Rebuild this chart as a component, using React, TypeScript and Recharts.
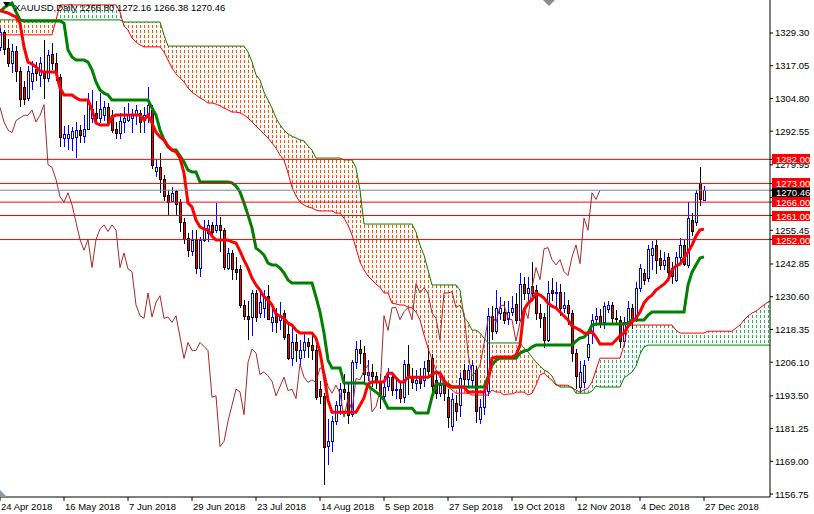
import React from "react";
import { ComposedChart, Area, Bar, Line, XAxis, YAxis, ReferenceLine } from "recharts";

// daily bars, index 0 = 24 Apr 2018 ... 176 = 27 Dec 2018
const opens = [
  1324.0, 1329.5, 1323.5, 1318.0, 1322.5, 1315.0, 1309.0, 1305.0, 1311.5, 1316.0,
  1313.5, 1314.5, 1312.5, 1321.5, 1318.0, 1313.0, 1290.0, 1290.0, 1290.0, 1290.5,
  1293.0, 1291.0, 1293.5, 1297.5, 1299.5, 1297.5, 1298.5, 1301.5, 1298.5, 1293.5,
  1292.0, 1296.0, 1296.5, 1297.5, 1298.5, 1299.5, 1296.5, 1298.5, 1300.5, 1277.5,
  1279.0, 1274.5, 1268.5, 1266.5, 1270.0, 1266.0, 1258.5, 1252.5, 1248.0, 1252.0,
  1241.5, 1252.0, 1254.5, 1257.5, 1255.5, 1257.5, 1255.5, 1241.5, 1247.0, 1241.0,
  1241.0, 1227.5, 1223.5, 1223.0, 1232.0, 1224.5, 1226.5, 1231.0, 1221.0, 1224.5,
  1222.0, 1224.5, 1216.5, 1207.5, 1213.5, 1207.5, 1210.5, 1213.5, 1212.5, 1210.5,
  1196.0, 1193.5, 1174.5, 1176.5, 1184.0, 1190.0, 1196.0, 1195.0, 1186.5, 1206.0,
  1211.0, 1209.5, 1201.5, 1202.5, 1201.0, 1199.0, 1193.5, 1197.0, 1200.5, 1195.5,
  1196.0, 1193.0, 1205.5, 1200.5, 1198.5, 1201.0, 1199.5, 1207.0, 1207.5, 1199.5,
  1194.5, 1197.5, 1193.0, 1182.5, 1191.0, 1190.0, 1203.0, 1199.5, 1199.5, 1203.0,
  1185.0, 1189.5, 1195.5, 1223.5, 1218.0, 1224.5, 1225.0, 1222.5, 1225.0, 1228.0,
  1222.0, 1235.5, 1232.0, 1234.5, 1233.0, 1224.5, 1223.0, 1214.5, 1233.0, 1232.0,
  1232.5, 1226.5, 1227.5, 1224.5, 1209.5, 1197.0, 1198.5, 1208.0, 1217.0, 1222.5,
  1223.5, 1221.0, 1226.0, 1227.5, 1222.5, 1222.0, 1214.0, 1221.0, 1226.5, 1222.5,
  1234.0, 1239.5, 1237.5, 1246.5, 1250.0, 1245.0, 1242.5, 1245.5, 1241.5, 1237.0,
  1245.5, 1250.0, 1242.5, 1259.5, 1258.5, 1273.0, 1266.8,
];
const highs = [
  1331.0, 1330.5, 1327.0, 1325.0, 1324.5, 1316.5, 1311.5, 1317.0, 1319.0, 1318.5,
  1320.5, 1326.5, 1323.0, 1325.5, 1322.0, 1314.0, 1294.5, 1295.0, 1294.0, 1296.0,
  1295.0, 1298.5, 1307.0, 1308.0, 1304.0, 1307.0, 1304.0, 1303.0, 1300.5, 1296.0,
  1299.5, 1301.5, 1303.0, 1301.0, 1302.5, 1300.5, 1301.5, 1309.0, 1302.5, 1282.0,
  1284.5, 1276.0, 1270.5, 1271.5, 1270.5, 1267.0, 1260.0, 1254.5, 1255.5, 1255.5,
  1253.0, 1259.5, 1259.5, 1258.5, 1265.5, 1260.5, 1256.5, 1249.0, 1248.0, 1245.5,
  1242.5, 1229.5, 1229.0, 1233.0, 1233.0, 1232.0, 1233.0, 1235.0, 1228.0, 1226.5,
  1228.5, 1225.5, 1220.0, 1220.5, 1216.5, 1214.5, 1216.5, 1215.0, 1216.5, 1212.5,
  1199.0, 1194.5, 1185.0, 1186.0, 1191.5, 1198.5, 1201.5, 1198.0, 1207.0, 1214.0,
  1214.5, 1212.0, 1207.0, 1205.5, 1202.5, 1201.5, 1201.0, 1204.0, 1202.5, 1200.5,
  1198.5, 1207.0, 1212.5, 1204.0, 1203.0, 1204.0, 1206.5, 1211.5, 1209.0, 1202.0,
  1201.0, 1200.0, 1196.0, 1194.5, 1194.0, 1202.0, 1205.5, 1205.0, 1207.0, 1204.5,
  1192.5, 1198.0, 1226.5, 1227.0, 1233.0, 1230.5, 1229.0, 1229.0, 1231.0, 1232.0,
  1239.5, 1238.0, 1238.0, 1243.5, 1235.0, 1228.0, 1224.5, 1236.5, 1237.5, 1236.0,
  1235.5, 1232.5, 1229.5, 1225.5, 1211.0, 1206.5, 1207.0, 1217.5, 1224.0, 1226.5,
  1226.0, 1228.5, 1229.0, 1228.5, 1225.5, 1223.5, 1223.0, 1229.0, 1228.0, 1236.0,
  1243.0, 1241.0, 1250.0, 1251.5, 1252.0, 1248.0, 1247.5, 1247.0, 1243.5, 1247.5,
  1252.5, 1252.0, 1266.0, 1262.0, 1270.5, 1279.0, 1272.16,
];
const lows = [
  1322.5, 1321.0, 1316.5, 1314.5, 1311.0, 1301.5, 1302.5, 1304.0, 1308.0, 1311.5,
  1309.0, 1304.5, 1311.0, 1315.5, 1311.5, 1286.5, 1286.5, 1285.5, 1285.0, 1282.5,
  1288.0, 1288.0, 1293.0, 1295.5, 1295.5, 1295.5, 1296.5, 1295.5, 1292.0, 1289.5,
  1289.5, 1292.0, 1296.0, 1292.0, 1295.0, 1292.0, 1292.0, 1295.5, 1278.5, 1275.5,
  1269.5, 1266.5, 1261.0, 1266.0, 1261.0, 1255.0, 1250.5, 1245.5, 1246.0, 1239.0,
  1238.0, 1251.0, 1251.0, 1253.0, 1254.5, 1247.5, 1240.5, 1240.5, 1237.0, 1237.0,
  1226.5, 1222.0, 1214.5, 1216.0, 1221.0, 1222.5, 1222.5, 1222.0, 1217.5, 1217.0,
  1218.0, 1214.5, 1207.0, 1204.5, 1206.0, 1204.5, 1207.5, 1207.5, 1207.0, 1192.0,
  1190.5, 1160.0, 1167.5, 1172.5, 1182.5, 1186.5, 1192.0, 1183.0, 1185.5, 1203.5,
  1205.5, 1198.5, 1199.0, 1197.0, 1196.0, 1188.5, 1191.0, 1195.5, 1193.5, 1192.5,
  1191.0, 1191.0, 1194.0, 1196.0, 1195.5, 1196.0, 1197.0, 1201.0, 1194.5, 1192.5,
  1193.0, 1191.5, 1181.5, 1180.5, 1184.0, 1185.5, 1196.5, 1197.0, 1196.5, 1183.5,
  1183.0, 1186.5, 1193.5, 1214.5, 1216.5, 1222.0, 1220.5, 1220.0, 1223.5, 1220.5,
  1221.0, 1229.5, 1229.0, 1229.0, 1222.0, 1219.0, 1211.5, 1213.5, 1229.0, 1226.5,
  1223.5, 1224.5, 1220.0, 1206.0, 1196.0, 1194.5, 1196.5, 1206.5, 1213.0, 1219.5,
  1219.0, 1218.5, 1224.5, 1220.5, 1220.0, 1211.5, 1212.0, 1219.5, 1218.5, 1221.0,
  1232.5, 1235.0, 1236.0, 1240.5, 1239.0, 1240.5, 1240.5, 1238.5, 1235.5, 1236.0,
  1243.5, 1242.0, 1241.5, 1253.5, 1257.0, 1264.5, 1266.38,
];
const closes = [
  1329.5, 1323.0, 1318.0, 1322.5, 1315.0, 1304.5, 1304.5, 1315.0, 1314.5, 1314.5,
  1318.0, 1312.5, 1321.0, 1318.0, 1314.5, 1290.5, 1291.5, 1291.5, 1292.5, 1293.0,
  1291.0, 1293.5, 1304.0, 1301.0, 1297.5, 1301.0, 1301.5, 1296.0, 1293.0, 1292.0,
  1296.5, 1297.5, 1298.5, 1298.5, 1300.5, 1296.0, 1298.5, 1302.5, 1280.0, 1279.0,
  1274.5, 1268.0, 1266.0, 1269.5, 1265.0, 1258.5, 1252.0, 1248.0, 1252.0, 1241.5,
  1252.0, 1256.0, 1257.5, 1255.0, 1257.5, 1255.5, 1241.5, 1247.0, 1241.0, 1240.0,
  1227.5, 1223.5, 1222.5, 1232.0, 1223.0, 1228.5, 1231.0, 1222.5, 1223.0, 1221.0,
  1223.5, 1215.5, 1207.5, 1213.5, 1210.5, 1210.5, 1213.5, 1212.0, 1210.5, 1193.0,
  1193.5, 1174.5, 1176.5, 1184.0, 1190.0, 1196.0, 1195.0, 1186.5, 1206.0, 1211.0,
  1209.5, 1201.5, 1202.5, 1201.0, 1199.0, 1193.5, 1197.0, 1200.5, 1195.5, 1196.0,
  1192.5, 1205.5, 1200.5, 1198.5, 1199.5, 1198.5, 1204.0, 1203.0, 1197.0, 1194.5,
  1197.5, 1194.5, 1185.5, 1192.5, 1188.0, 1200.0, 1199.5, 1203.0, 1205.0, 1187.5,
  1189.5, 1195.5, 1223.5, 1218.0, 1226.5, 1226.5, 1222.0, 1225.0, 1226.5, 1222.0,
  1235.5, 1232.0, 1234.0, 1232.0, 1224.5, 1222.5, 1214.5, 1232.0, 1232.0, 1232.5,
  1226.5, 1227.5, 1224.5, 1209.5, 1201.0, 1202.5, 1205.0, 1213.0, 1222.0, 1223.5,
  1221.0, 1227.0, 1227.5, 1222.5, 1222.0, 1214.0, 1221.0, 1226.5, 1222.5, 1234.0,
  1241.5, 1237.0, 1248.5, 1249.0, 1244.5, 1242.5, 1244.5, 1240.0, 1238.5, 1245.5,
  1250.0, 1243.0, 1260.0, 1255.5, 1269.5, 1267.0, 1270.46,
];

// Ichimoku lines
const tenkan = [
  1337.9, 1337.2, 1336.8, 1336.0, 1335.3, 1333.0, 1324.1, 1318.4, 1317.7, 1316.6,
  1315.1, 1314.7, 1314.7, 1314.7, 1314.7, 1308.7, 1306.1, 1306.1, 1306.1, 1305.0,
  1304.2, 1304.2, 1304.2, 1300.5, 1295.6, 1294.9, 1294.9, 1294.9, 1297.9, 1298.6,
  1298.6, 1298.6, 1298.6, 1298.6, 1298.6, 1298.6, 1296.7, 1298.6, 1295.6, 1292.2,
  1290.4, 1289.3, 1287.0, 1285.5, 1284.8, 1282.5, 1276.9, 1265.7, 1264.2, 1259.3,
  1256.7, 1255.9, 1255.6, 1253.3, 1251.8, 1251.8, 1251.8, 1251.8, 1251.1, 1250.7,
  1247.7, 1244.3, 1241.3, 1237.6, 1235.0, 1233.1, 1230.5, 1229.4, 1227.5, 1224.1,
  1223.4, 1222.6, 1220.7, 1220.0, 1218.1, 1217.0, 1217.0, 1217.0, 1217.0, 1215.1,
  1209.9, 1201.3, 1191.9, 1187.4, 1187.4, 1187.4, 1187.4, 1187.4, 1187.4, 1187.4,
  1190.0, 1192.7, 1197.9, 1198.7, 1198.7, 1198.7, 1198.7, 1202.0, 1202.0, 1200.2,
  1198.7, 1198.7, 1200.5, 1200.5, 1200.5, 1200.5, 1200.5, 1200.5, 1201.3, 1202.4,
  1202.0, 1199.4, 1197.2, 1196.8, 1196.8, 1196.8, 1196.8, 1194.9, 1194.9, 1194.9,
  1194.9, 1194.9, 1198.7, 1207.6, 1208.0, 1208.0, 1208.0, 1208.0, 1208.0, 1208.8,
  1212.5, 1225.6, 1228.2, 1229.4, 1232.0, 1231.2, 1230.1, 1228.2, 1227.1, 1226.4,
  1224.9, 1223.4, 1221.9, 1219.6, 1218.9, 1218.1, 1217.0, 1217.0, 1217.4, 1215.5,
  1212.9, 1212.9, 1212.9, 1212.9, 1214.4, 1215.9, 1217.0, 1219.6, 1221.1, 1222.6,
  1224.9, 1228.2, 1230.1, 1231.2, 1233.1, 1234.2, 1235.3, 1236.9, 1240.6, 1242.1,
  1242.8, 1245.1, 1247.3, 1249.9, 1253.3, 1255.6, 1255.9,
];
const kijun = [
  1337.2, 1338.7, 1339.8, 1340.5, 1337.2, 1334.2, 1333.8, 1333.8, 1333.8, 1333.8,
  1333.8, 1333.8, 1333.8, 1333.8, 1333.8, 1333.8, 1333.0, 1322.9, 1320.3, 1319.2,
  1319.2, 1319.2, 1318.4, 1315.5, 1311.0, 1308.0, 1306.8, 1306.1, 1304.2, 1304.2,
  1304.2, 1304.2, 1304.2, 1304.2, 1304.2, 1304.2, 1304.2, 1304.2, 1301.2, 1298.6,
  1293.0, 1289.3, 1286.6, 1285.5, 1285.5, 1283.3, 1281.0, 1278.0, 1277.3, 1277.3,
  1273.5, 1273.5, 1273.5, 1273.5, 1273.5, 1273.5, 1273.5, 1273.5, 1273.2, 1272.0,
  1269.8, 1265.7, 1261.2, 1256.3, 1248.8, 1247.7, 1246.2, 1243.2, 1242.5, 1242.5,
  1241.3, 1239.5, 1236.9, 1235.7, 1235.7, 1235.7, 1235.7, 1235.7, 1235.7, 1230.5,
  1224.9, 1217.0, 1206.9, 1203.9, 1203.9, 1203.9, 1198.3, 1198.3, 1198.3, 1198.3,
  1198.3, 1198.3, 1197.5, 1196.0, 1194.9, 1193.8, 1191.9, 1188.9, 1188.9, 1188.9,
  1188.9, 1188.9, 1188.9, 1188.9, 1187.1, 1187.1, 1187.1, 1187.1, 1193.1, 1197.9,
  1197.9, 1197.9, 1197.9, 1196.8, 1196.8, 1196.8, 1196.8, 1196.8, 1196.8, 1196.8,
  1196.8, 1196.8, 1200.5, 1205.0, 1206.9, 1207.6, 1207.6, 1207.6, 1207.6, 1207.6,
  1209.5, 1210.3, 1210.6, 1211.8, 1212.5, 1212.5, 1212.5, 1212.5, 1212.5, 1212.5,
  1212.5, 1212.5, 1212.5, 1212.5, 1214.0, 1215.1, 1215.5, 1217.0, 1220.0, 1220.4,
  1220.4, 1220.4, 1220.4, 1220.4, 1220.4, 1220.4, 1220.4, 1220.7, 1221.9, 1221.9,
  1221.9, 1221.9, 1223.7, 1224.9, 1224.9, 1224.9, 1224.9, 1224.9, 1224.9, 1224.9,
  1224.9, 1224.9, 1235.0, 1239.8, 1242.5, 1245.1, 1245.5,
];
// Senkou spans, already shifted 26 bars ahead (index 0..193)
const spanA = [
  1328.6, 1328.6, 1328.6, 1328.6, 1328.6, 1328.6, 1328.6, 1328.6, 1328.6, 1328.6,
  1328.6, 1328.6, 1328.6, 1328.6, 1334.2, 1339.8, 1339.8, 1339.8, 1339.8, 1339.8,
  1339.8, 1339.8, 1339.8, 1339.8, 1339.8, 1339.8, 1339.8, 1339.8, 1339.8, 1339.8,
  1337.2, 1331.9, 1330.4, 1327.4, 1325.9, 1324.8, 1324.1, 1324.1, 1324.1, 1324.1,
  1324.1, 1322.2, 1319.2, 1316.2, 1314.0, 1312.5, 1311.0, 1308.7, 1307.2, 1306.1,
  1305.0, 1304.2, 1303.1, 1303.1, 1302.7, 1302.0, 1301.2, 1300.5, 1299.7, 1299.7,
  1299.4, 1298.6, 1297.5, 1296.0, 1294.5, 1293.0, 1291.5, 1290.0, 1288.1, 1286.2,
  1283.6, 1281.8, 1276.9, 1271.6, 1268.3, 1266.0, 1264.9, 1264.2, 1263.8, 1263.0,
  1262.7, 1262.7, 1262.7, 1262.7, 1261.9, 1261.9, 1260.0, 1257.4, 1253.7, 1248.8,
  1243.6, 1240.6, 1238.3, 1236.9, 1235.3, 1234.2, 1232.0, 1232.0, 1228.2, 1227.9,
  1227.5, 1227.5, 1226.7, 1226.4, 1224.9, 1221.9, 1216.3, 1211.4, 1206.9, 1203.2,
  1200.2, 1198.3, 1196.8, 1195.7, 1194.5, 1194.5, 1194.5, 1194.5, 1193.8, 1193.8,
  1193.8, 1193.8, 1193.8, 1195.7, 1194.9, 1194.9, 1193.8, 1194.2, 1194.2, 1194.9,
  1194.9, 1194.9, 1193.8, 1194.5, 1197.5, 1201.3, 1202.0, 1200.5, 1199.4, 1197.5,
  1197.5, 1197.5, 1197.5, 1196.4, 1195.7, 1194.9, 1195.7, 1196.4, 1198.7, 1203.2,
  1207.6, 1207.6, 1207.6, 1207.6, 1207.6, 1207.6, 1212.5, 1219.6, 1220.0, 1220.0,
  1220.0, 1220.0, 1220.0, 1220.0, 1220.0, 1220.0, 1220.0, 1220.0, 1220.0, 1218.1,
  1217.0, 1217.0, 1217.0, 1217.0, 1217.0, 1217.0, 1217.0, 1217.7, 1217.7, 1217.7,
  1217.7, 1217.7, 1217.7, 1217.7, 1218.9, 1220.0, 1221.9, 1223.4, 1224.5, 1225.2,
  1226.4, 1227.5, 1228.6, 1229.4,
];
const spanB = [
  1334.2, 1334.2, 1334.2, 1334.2, 1334.2, 1334.2, 1334.2, 1334.2, 1334.2, 1334.2,
  1334.2, 1334.2, 1334.2, 1334.2, 1334.2, 1334.2, 1334.2, 1334.2, 1334.2, 1334.2,
  1334.2, 1334.2, 1334.2, 1334.2, 1334.2, 1334.2, 1334.2, 1334.2, 1334.2, 1334.2,
  1334.2, 1333.4, 1333.4, 1333.4, 1333.4, 1333.4, 1333.4, 1333.4, 1333.4, 1333.4,
  1333.4, 1328.5, 1324.4, 1324.4, 1324.4, 1324.4, 1324.4, 1324.4, 1324.4, 1324.4,
  1324.4, 1324.4, 1324.4, 1324.4, 1324.4, 1324.4, 1324.4, 1324.4, 1324.4, 1324.4,
  1324.4, 1324.4, 1322.2, 1318.5, 1313.6, 1311.7, 1307.2, 1304.2, 1301.2, 1297.5,
  1294.9, 1293.0, 1291.5, 1290.7, 1290.0, 1289.3, 1288.9, 1287.0, 1285.5, 1282.5,
  1282.5, 1282.5, 1282.5, 1282.5, 1282.5, 1282.5, 1281.8, 1281.8, 1281.8, 1278.8,
  1270.5, 1257.8, 1257.8, 1257.8, 1257.8, 1257.8, 1257.8, 1257.8, 1257.8, 1257.8,
  1257.8, 1257.8, 1257.8, 1257.8, 1254.8, 1249.9, 1246.2, 1240.6, 1235.0, 1235.0,
  1235.0, 1235.0, 1235.0, 1235.0, 1235.0, 1233.1, 1223.0, 1221.1, 1218.1, 1218.1,
  1217.0, 1215.1, 1213.3, 1213.3, 1213.3, 1213.3, 1213.3, 1213.3, 1213.3, 1213.3,
  1213.3, 1211.4, 1209.9, 1208.0, 1206.2, 1204.6, 1203.2, 1202.4, 1200.9, 1197.9,
  1196.8, 1196.8, 1196.8, 1196.8, 1194.5, 1194.5, 1194.5, 1194.5, 1195.3, 1197.2,
  1196.8, 1196.8, 1196.8, 1196.8, 1196.8, 1196.8, 1200.2, 1201.3, 1202.4, 1204.6,
  1209.1, 1211.8, 1212.5, 1212.5, 1212.5, 1212.5, 1212.5, 1212.5, 1212.5, 1212.5,
  1212.5, 1212.5, 1212.5, 1212.5, 1212.5, 1212.5, 1212.5, 1212.5, 1212.5, 1212.5,
  1212.5, 1212.5, 1212.5, 1212.5, 1212.5, 1212.5, 1212.5, 1212.5, 1212.5, 1212.5,
  1212.5, 1212.5, 1212.5, 1212.5,
];

const dateTicks = [0, 16, 32, 48, 64, 80, 96, 112, 128, 144, 160, 176];
const dateLabels = [
  "24 Apr 2018", "16 May 2018", "7 Jun 2018", "29 Jun 2018", "23 Jul 2018", "14 Aug 2018",
  "5 Sep 2018", "27 Sep 2018", "19 Oct 2018", "12 Nov 2018", "4 Dec 2018", "27 Dec 2018",
];
const priceTicks = [
  1329.3, 1317.05, 1304.8, 1292.55, 1279.95, 1267.7, 1255.45, 1242.85, 1230.6, 1218.35,
  1206.1, 1193.5, 1181.25, 1169.0, 1156.75,
];
const redLevels = [1282, 1273, 1266, 1261, 1252];
const lastPrice = 1270.46;
const chikouShift = 26;
const title = "XAUUSD,Daily 1266.80 1272.16 1266.38 1270.46";

const FONT = "'Liberation Sans', Arial, sans-serif";

// tags go last so they are painted over the ordinary tick labels; red ones on top
const axisTicks = [...priceTicks, lastPrice, ...redLevels];

const rows = spanA.map((a, i) => {
  const b = spanB[i];
  const bar = i < closes.length;
  const ci = i + chikouShift;
  return {
    i,
    range: bar ? [lows[i], highs[i]] : null,
    o: bar ? opens[i] : null,
    h: bar ? highs[i] : null,
    l: bar ? lows[i] : null,
    c: bar ? closes[i] : null,
    tenkan: bar ? tenkan[i] : null,
    kijun: bar ? kijun[i] : null,
    chikou: ci < closes.length ? closes[ci] : null,
    spanA: a,
    spanB: b,
    up: [b, Math.max(a, b)],
    down: [a, Math.max(a, b)],
  };
});

function Candle(props: any) {
  const { x, y, width, height, payload } = props;
  if (!payload || payload.range == null) return null;
  const { o, h, l, c } = payload;
  const k = h - l > 0 ? height / (h - l) : 0;
  const cx = Math.round(x + width / 2) + 0.5;
  const yO = y + (h - o) * k;
  const yC = y + (h - c) * k;
  const bull = c >= o;
  const top = Math.round(Math.min(yO, yC)) + 0.5;
  const bh = Math.max(Math.round(Math.abs(yC - yO)), 1);
  const col = bull ? "#0000FF" : "#000000";
  return (
    <g shapeRendering="crispEdges">
      <line x1={cx} x2={cx} y1={y} y2={y + height} stroke={col} strokeWidth={1} />
      <rect x={cx - 1} y={top} width={2} height={bh} fill={bull ? "#FFFFFF" : "#FF0000"} stroke={col} strokeWidth={1} />
    </g>
  );
}

function DateTick(props: any) {
  const { x, y, payload } = props;
  const k = dateTicks.indexOf(payload.value);
  return (
    <text x={x + 1} y={y + 7} fontSize={9.5} fontFamily={FONT} fill="#000">
      {dateLabels[k]}
    </text>
  );
}

function PriceTick(props: any) {
  const { x, y, payload } = props;
  const v = payload.value;
  const isRed = redLevels.includes(v);
  const isLast = v === lastPrice;
  if (isRed || isLast) {
    // the bid tag sits a little lower so the 1273 tag does not cover it
    const yy = Math.round(y) + (isLast ? 2 : 0);
    return (
      <g>
        <rect x={x - 3} y={yy - 5} width={38} height={10} fill={isRed ? "#FF0000" : "#000000"} />
        <text x={x + 1} y={yy + 3.5} fontSize={9.5} fontFamily={FONT} fill="#FFFFFF">
          {v.toFixed(2)}
        </text>
      </g>
    );
  }
  return (
    <text x={x} y={y + 3.5} fontSize={9.5} fontFamily={FONT} fill="#000">
      {v.toFixed(2)}
    </text>
  );
}

export default function App() {
  return (
    <div style={{ position: "absolute", left: 0, top: 0, width: 814, height: 514, background: "#fff" }}>
      <ComposedChart width={814} height={514} data={rows} margin={{ top: 0, right: 0, bottom: 0, left: 0 }}>
        <defs>
          <pattern id="dotsOrange" patternUnits="userSpaceOnUse" width="4" height="5">
            <rect x="0" y="0" width="1" height="3" fill="#FF5000" />
          </pattern>
          <pattern id="dotsGreen" patternUnits="userSpaceOnUse" width="4" height="5">
            <rect x="0" y="0" width="1" height="3" fill="#2FAF5F" />
          </pattern>
        </defs>
        <XAxis
          dataKey="i"
          type="number"
          domain={[0, 192.5]}
          allowDataOverflow
          ticks={dateTicks}
          interval={0}
          height={17}
          tickSize={4}
          tick={<DateTick />}
          axisLine={{ stroke: "#000" }}
          tickLine={{ stroke: "#000" }}
        />
        <YAxis
          orientation="right"
          width={44}
          type="number"
          domain={[1155.65, 1341.65]}
          allowDataOverflow
          ticks={axisTicks}
          interval={0}
          tickSize={3}
          tickMargin={2}
          tick={<PriceTick />}
          axisLine={{ stroke: "#000" }}
          tickLine={{ stroke: "#000" }}
        />
        <Area dataKey="down" type="linear" stroke="none" fill="url(#dotsOrange)" fillOpacity={1} dot={false} activeDot={false} isAnimationActive={false} />
        <Area dataKey="up" type="linear" stroke="none" fill="url(#dotsGreen)" fillOpacity={1} dot={false} activeDot={false} isAnimationActive={false} />
        <Line dataKey="spanA" type="linear" stroke="#FF0000" strokeWidth={1} dot={false} activeDot={false} isAnimationActive={false} />
        <Line dataKey="spanB" type="linear" stroke="#008000" strokeWidth={1} dot={false} activeDot={false} isAnimationActive={false} />
        <Bar dataKey="range" barSize={3} shape={(p: any) => <Candle {...p} />} isAnimationActive={false} />
        <Line dataKey="chikou" type="linear" stroke="#A52A2A" strokeWidth={1} dot={false} activeDot={false} isAnimationActive={false} />
        <Line dataKey="kijun" type="linear" stroke="#008000" strokeWidth={3} dot={false} activeDot={false} isAnimationActive={false} />
        <Line dataKey="tenkan" type="linear" stroke="#FF0000" strokeWidth={3} dot={false} activeDot={false} isAnimationActive={false} />
        {redLevels.map((v) => (
          <ReferenceLine key={v} y={v} stroke="#FF0000" strokeWidth={1} />
        ))}
        <ReferenceLine y={lastPrice} stroke="#778899" strokeWidth={1} />
      </ComposedChart>
      <svg width={814} height={514} style={{ position: "absolute", left: 0, top: 0, pointerEvents: "none" }}>
        <polygon points="3,2 10,2 6.5,7" fill="#000" />
        <text x={14} y={11} fontSize={9.5} fontFamily={FONT} fill="#000">
          {title}
        </text>
        <polygon points="543,0 555,0 549,6" fill="#8C8C8C" />
        <polygon points="0,490 0,497 7,497" fill="#8C9BAA" />
      </svg>
    </div>
  );
}
